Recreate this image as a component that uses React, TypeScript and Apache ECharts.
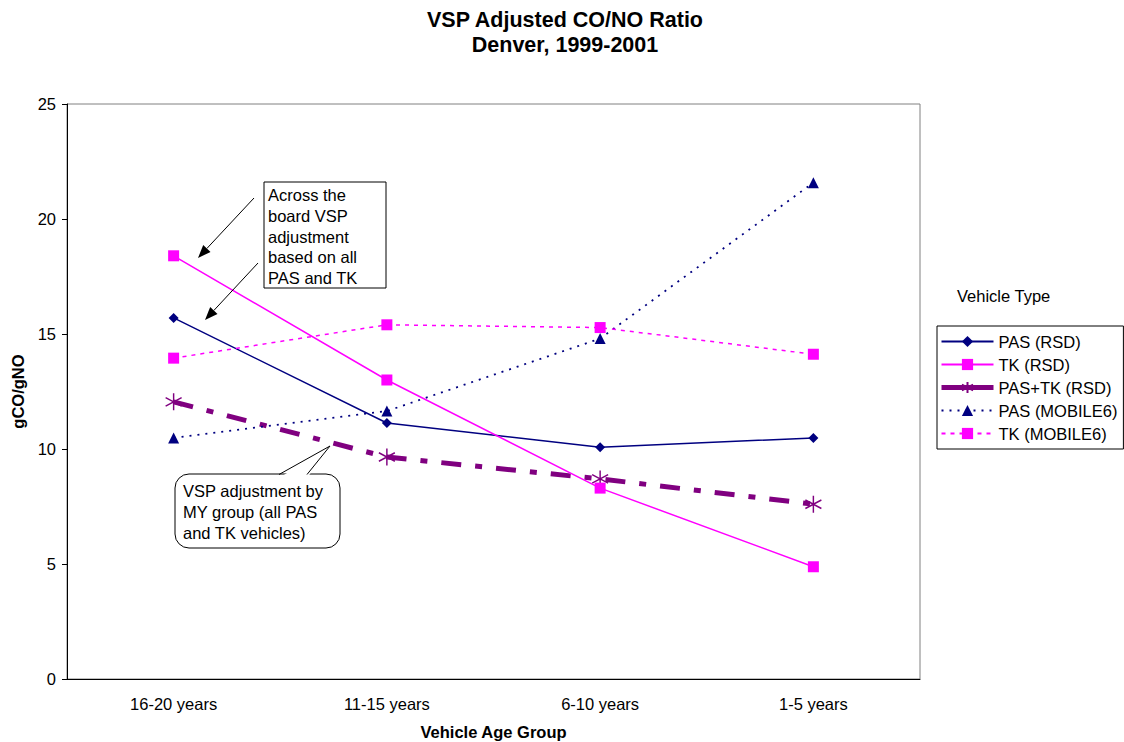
import React, { useEffect, useRef } from "react";
import * as echarts from "echarts";

const categories = ["16-20 years", "11-15 years", "6-10 years", "1-5 years"];
const pasRSD = [15.7, 11.13, 10.08, 10.48];
const tkRSD = [18.4, 13.0, 8.3, 4.88];
const pasTkRSD = [12.05, 9.65, 8.7, 7.6];
const pasMOBILE6 = [10.48, 11.65, 14.8, 21.58];
const tkMOBILE6 = [13.95, 15.4, 15.28, 14.12];
const yTicks = { min: 0, max: 25, interval: 5 };

const NAVY = "#000080";
const MAGENTA = "#FF00FF";
const PURPLE = "#800080";
const FONT = "Liberation Sans, Arial, sans-serif";
const FS = 16.5;

const asterisk = "path://M0,-10L0,10M-8.66,-5L8.66,5M-8.66,5L8.66,-5";

function arrowHead(x1: number, y1: number, x2: number, y2: number) {
  const dx = x2 - x1, dy = y2 - y1;
  const l = Math.hypot(dx, dy);
  const ux = dx / l, uy = dy / l;
  const bx = x2 - 13 * ux, by = y2 - 13 * uy;
  const px = -uy * 5, py = ux * 5;
  return [
    { type: "line", shape: { x1, y1, x2: bx, y2: by }, style: { stroke: "#000", lineWidth: 1 } },
    { type: "polygon", shape: { points: [[x2, y2], [bx + px, by + py], [bx - px, by - py]] }, style: { fill: "#000" } },
  ];
}

export default function App() {
  const ref = useRef<HTMLDivElement>(null);
  useEffect(() => {
    document.body.style.margin = "0";
    const chart = echarts.init(ref.current!, null, { renderer: "svg" });
    const option: any = {
      animation: false,
      backgroundColor: "#fff",
      textStyle: { fontFamily: FONT },
      title: {
        text: "VSP Adjusted CO/NO Ratio\nDenver, 1999-2001",
        left: 560,
        textAlign: "center",
        top: 2,
        textStyle: { fontSize: 21.5, fontWeight: "bold", color: "#000", lineHeight: 25, fontFamily: FONT },
      },
      grid: {
        left: 67, top: 104, width: 853, height: 575, show: true,
        borderColor: "#808080", borderWidth: 1, backgroundColor: "#fff",
        outerBoundsMode: "none", containLabel: false,
      },
      legend: {
        orient: "vertical",
        left: 937,
        top: 326,
        padding: [7, 6, 7, 2],
        itemGap: 6,
        itemWidth: 52,
        itemHeight: 14,
        borderColor: "#000",
        borderWidth: 1,
        textStyle: { fontSize: FS, color: "#000", fontFamily: FONT },
        data: [
          "PAS (RSD)",
          "TK (RSD)",
          { name: "PAS+TK (RSD)", lineStyle: { width: 5, type: "solid" } },
          "PAS (MOBILE6)",
          "TK (MOBILE6)",
        ],
      },
      xAxis: {
        type: "category",
        data: categories,
        name: "Vehicle Age Group",
        nameLocation: "middle",
        nameGap: 44,
        nameTextStyle: { fontSize: FS, fontWeight: "bold", color: "#000", fontFamily: FONT },
        axisLine: { lineStyle: { color: "#000", width: 1 } },
        axisTick: { length: 5, lineStyle: { color: "#000" } },
        axisLabel: { fontSize: FS, color: "#000", margin: 16, fontFamily: FONT },
        splitLine: { show: false },
      },
      yAxis: {
        type: "value",
        min: yTicks.min,
        max: yTicks.max,
        interval: yTicks.interval,
        name: "gCO/gNO",
        nameLocation: "middle",
        nameGap: 40,
        nameTextStyle: { fontSize: FS, fontWeight: "bold", color: "#000", fontFamily: FONT },
        axisLine: { show: true, lineStyle: { color: "#000", width: 1 } },
        axisTick: { show: true, length: 5, lineStyle: { color: "#000" } },
        axisLabel: { fontSize: FS, color: "#000", margin: 11, fontFamily: FONT },
        splitLine: { show: false },
      },
      series: [
        {
          name: "PAS (RSD)", type: "line", data: pasRSD, z: 4,
          symbol: "diamond", symbolSize: 10,
          lineStyle: { color: NAVY, width: 1.5 }, itemStyle: { color: NAVY },
        },
        {
          name: "TK (RSD)", type: "line", data: tkRSD, z: 4,
          symbol: "rect", symbolSize: 11,
          lineStyle: { color: MAGENTA, width: 1.5 }, itemStyle: { color: MAGENTA },
        },
        {
          name: "PAS+TK (RSD)", type: "line", data: pasTkRSD, z: 3,
          symbol: asterisk, symbolSize: [16, 17],
          lineStyle: { color: PURPLE, width: 5, type: [20, 14, 7, 14] },
          itemStyle: { color: "none", borderColor: PURPLE, borderWidth: 1.5 },
        },
        {
          name: "PAS (MOBILE6)", type: "line", data: pasMOBILE6, z: 4,
          symbol: "triangle", symbolSize: 11,
          lineStyle: { color: NAVY, width: 1.8, type: [2, 6] }, itemStyle: { color: NAVY },
        },
        {
          name: "TK (MOBILE6)", type: "line", data: tkMOBILE6, z: 4,
          symbol: "rect", symbolSize: 11,
          lineStyle: { color: MAGENTA, width: 1.5, type: [4, 5] }, itemStyle: { color: MAGENTA },
        },
      ],
      graphic: [
        { type: "text", left: 957, top: 287, style: { text: "Vehicle Type", fontSize: FS, fill: "#000", fontFamily: FONT } },
        { type: "rect", shape: { x: 264, y: 182, width: 122, height: 106 }, style: { fill: "#fff", stroke: "#000", lineWidth: 1 }, z: 10 },
        {
          type: "text", x: 268, y: 185, z: 11,
          style: { text: "Across the\nboard VSP\nadjustment\nbased on all\nPAS and TK", fontSize: FS, lineHeight: 20.6, fill: "#000", fontFamily: FONT },
        },
        ...arrowHead(254, 198, 198, 258).map((e) => ({ ...e, z: 10 })),
        ...arrowHead(258, 263, 205, 320).map((e) => ({ ...e, z: 10 })),
        { type: "rect", shape: { x: 175, y: 474, width: 165, height: 74, r: 14 }, style: { fill: "#fff", stroke: "#000", lineWidth: 1 }, z: 10 },
        { type: "polygon", shape: { points: [[279, 478], [330, 446], [307, 478]] }, style: { fill: "#fff" }, z: 11 },
        { type: "polyline", shape: { points: [[279, 474.5], [330, 446], [307, 474.5]] }, style: { stroke: "#000", lineWidth: 1, fill: "none" }, z: 12 },
        {
          type: "text", x: 183, y: 480, z: 12,
          style: { text: "VSP adjustment by\nMY group (all PAS\nand TK vehicles)", fontSize: FS, lineHeight: 21, fill: "#000", fontFamily: FONT },
        },
      ],
    };
    chart.setOption(option);
    return () => chart.dispose();
  }, []);
  return <div ref={ref} style={{ width: 1124, height: 742 }} />;
}
